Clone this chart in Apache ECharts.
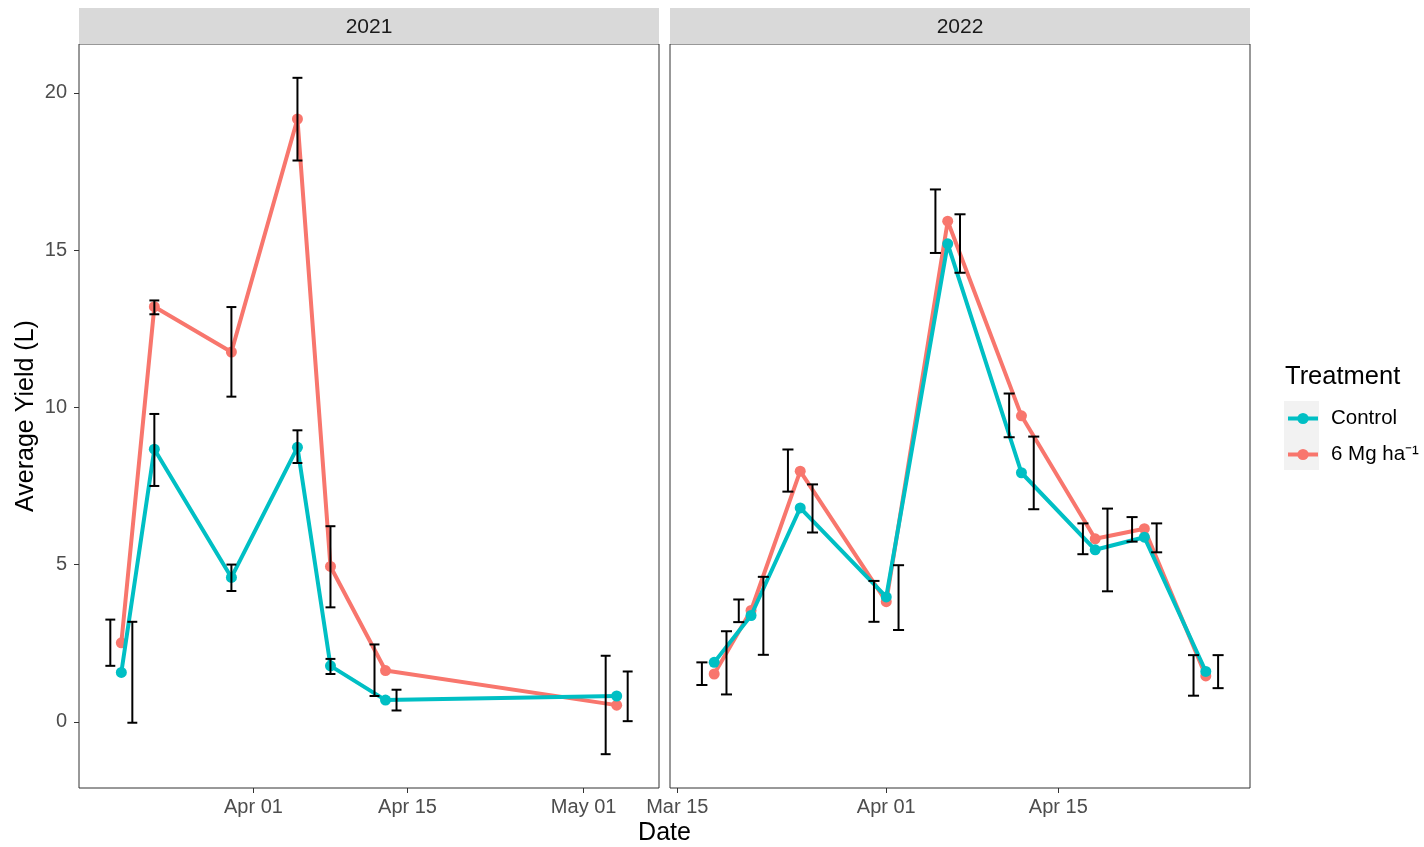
<!DOCTYPE html>
<html>
<head>
<meta charset="utf-8">
<script src="https://cdn.jsdelivr.net/npm/echarts@6/dist/echarts.min.js"></script>
<style>
html, body { margin: 0; padding: 0; background: #fff; }
#chart { width: 1424px; height: 847px; }
</style>
</head>
<body>
<div id="chart"></div>
<script>
// ---- data ----
const dates2021 = ['2021-03-20', '2021-03-23', '2021-03-30', '2021-04-05', '2021-04-08', '2021-04-13', '2021-05-04'];
const control2021 = [1.57, 8.67, 4.59, 8.73, 1.78, 0.69, 0.82];
const controlLo2021 = [-0.03, 7.50, 4.16, 8.23, 1.52, 0.36, 0.02];
const controlHi2021 = [3.18, 9.79, 5.00, 9.27, 2.00, 1.02, 1.60];
const mg2021 = [2.51, 13.20, 11.76, 19.17, 4.94, 1.63, 0.53];
const mgLo2021 = [1.78, 12.96, 10.34, 17.85, 3.64, 0.82, -1.03];
const mgHi2021 = [3.25, 13.40, 13.19, 20.48, 6.22, 2.46, 2.10];
// days the error bars sit away from the point (6 Mg to the left, Control to the right)
const dodge2021 = [1, 0, 0, 0, 0, 1, 1];

const dates2022 = ['2022-03-18', '2022-03-21', '2022-03-25', '2022-04-01', '2022-04-06', '2022-04-12', '2022-04-18', '2022-04-22', '2022-04-27'];
const control2022 = [1.89, 3.38, 6.80, 3.97, 15.20, 7.92, 5.47, 5.87, 1.60];
const controlLo2022 = [0.87, 2.13, 6.02, 2.92, 14.28, 6.76, 4.15, 5.39, 1.07];
const controlHi2022 = [2.88, 4.61, 7.55, 4.98, 16.14, 9.07, 6.78, 6.31, 2.12];
const mg2022 = [1.52, 3.54, 7.97, 3.82, 15.92, 9.73, 5.82, 6.14, 1.46];
const mgLo2022 = [1.17, 3.17, 7.32, 3.18, 14.91, 9.05, 5.33, 5.73, 0.83];
const mgHi2022 = [1.89, 3.89, 8.66, 4.48, 16.93, 10.44, 6.31, 6.51, 2.12];
const dodge2022 = [1, 1, 1, 1, 1, 1, 1, 1, 1];

const yTicks = [0, 5, 10, 15, 20];
const xTicks2021 = ['2021-04-01', '2021-04-15', '2021-05-01'];
const xTicks2022 = ['2022-03-15', '2022-04-01', '2022-04-15'];
const years = ['2021', '2022'];
const names = ['Control', '6 Mg ha\u207B\u00B9'];

const DAY = 86400000;
const CAP = 0.45 * DAY; // half width of error bar caps
const MONTHS = ['Jan', 'Feb', 'Mar', 'Apr', 'May', 'Jun', 'Jul', 'Aug', 'Sep', 'Oct', 'Nov', 'Dec'];
const CYAN = '#00BFC4';
const RED = '#F8766D';
const FONT = '"Liberation Sans", Arial, Helvetica, sans-serif';

function toTime(s) {
  const p = s.split('-').map(Number);
  return Date.UTC(p[0], p[1] - 1, p[2]);
}
function fmtDate(v) {
  const d = new Date(v);
  return MONTHS[d.getUTCMonth()] + ' ' + String(d.getUTCDate()).padStart(2, '0');
}
function expand(lo, hi) {
  const pad = (hi - lo) * 0.05;
  return [lo - pad, hi + pad];
}

const panels = [
  { dates: dates2021, c: control2021, cLo: controlLo2021, cHi: controlHi2021,
    m: mg2021, mLo: mgLo2021, mHi: mgHi2021, dodge: dodge2021, ticks: xTicks2021 },
  { dates: dates2022, c: control2022, cLo: controlLo2022, cHi: controlHi2022,
    m: mg2022, mLo: mgLo2022, mHi: mgHi2022, dodge: dodge2022, ticks: xTicks2022 },
];

// shared y range (fixed y scale, 5% expansion)
let yMin = Infinity, yMax = -Infinity;
panels.forEach(p => {
  yMin = Math.min(yMin, ...p.cLo, ...p.mLo);
  yMax = Math.max(yMax, ...p.cHi, ...p.mHi);
});
const yRange = expand(yMin, yMax);

function renderErr(params, api) {
  const x = api.value(0), lo = api.value(1), hi = api.value(2);
  const a = api.coord([x, hi]);
  const b = api.coord([x, lo]);
  const l = api.coord([x - CAP, lo])[0];
  const r = api.coord([x + CAP, lo])[0];
  const style = { stroke: '#000', lineWidth: 2 };
  return {
    type: 'group',
    children: [
      { type: 'line', shape: { x1: a[0], y1: a[1], x2: b[0], y2: b[1] }, style },
      { type: 'line', shape: { x1: l, y1: a[1], x2: r, y2: a[1] }, style },
      { type: 'line', shape: { x1: l, y1: b[1], x2: r, y2: b[1] }, style },
    ],
  };
}

const grids = [];
const xAxes = [];
const yAxes = [];
const series = [];
const panelLeft = [79, 670];
const panelW = 580;
const panelTop = 44;
const panelH = 744;

panels.forEach((p, i) => {
  const t = p.dates.map(toTime);
  const errM = t.map((x, k) => [x - p.dodge[k] * DAY, p.mLo[k], p.mHi[k]]);
  const errC = t.map((x, k) => [x + p.dodge[k] * DAY, p.cLo[k], p.cHi[k]]);
  const allX = errM.concat(errC).map(e => e[0]);
  const xRange = expand(Math.min(...allX) - CAP, Math.max(...allX) + CAP);

  grids.push({
    left: panelLeft[i], top: panelTop, width: panelW, height: panelH,
    show: true, borderColor: '#333333', borderWidth: 1, backgroundColor: '#fff',
  });
  xAxes.push({
    type: 'value', gridIndex: i, min: xRange[0], max: xRange[1], scale: true,
    axisLine: { show: false, onZero: false },
    splitLine: { show: false },
    axisTick: { show: true, length: 5, lineStyle: { color: '#333333', width: 1 },
      customValues: p.ticks.map(toTime) },
    axisLabel: { show: true, margin: 9, color: '#4D4D4D', fontSize: 20, fontFamily: FONT,
      customValues: p.ticks.map(toTime), formatter: fmtDate, hideOverlap: false,
      showMinLabel: true, showMaxLabel: true },
  });
  yAxes.push({
    type: 'value', gridIndex: i, min: yRange[0], max: yRange[1],
    axisLine: { show: false, onZero: false },
    splitLine: { show: false },
    axisTick: { show: i === 0, length: 5, lineStyle: { color: '#333333', width: 1 },
      customValues: yTicks },
    axisLabel: { show: i === 0, margin: 12, color: '#4D4D4D', fontSize: 20, fontFamily: FONT,
      customValues: yTicks },
  });

  const lineBase = {
    type: 'line', xAxisIndex: i, yAxisIndex: i,
    symbol: 'circle', symbolSize: 11, showSymbol: true,
    emphasis: { disabled: true }, silent: true,
  };
  series.push(Object.assign({}, lineBase, {
    name: names[1], z: 2,
    data: t.map((x, k) => [x, p.m[k]]),
    itemStyle: { color: RED }, lineStyle: { color: RED, width: 4 },
  }));
  series.push(Object.assign({}, lineBase, {
    name: names[0], z: 3,
    data: t.map((x, k) => [x, p.c[k]]),
    itemStyle: { color: CYAN }, lineStyle: { color: CYAN, width: 4 },
  }));
  series.push({
    type: 'custom', name: 'err-m-' + years[i], xAxisIndex: i, yAxisIndex: i, z: 4,
    renderItem: renderErr, encode: { x: 0, y: [1, 2] }, data: errM, silent: true,
  });
  series.push({
    type: 'custom', name: 'err-c-' + years[i], xAxisIndex: i, yAxisIndex: i, z: 4,
    renderItem: renderErr, encode: { x: 0, y: [1, 2] }, data: errC, silent: true,
  });
});

const strips = [];
years.forEach((y, i) => {
  strips.push({
    type: 'rect', left: panelLeft[i], top: 8,
    shape: { width: panelW, height: panelTop - 8 },
    style: { fill: '#D9D9D9' }, silent: true,
  });
  strips.push({
    type: 'text', x: panelLeft[i] + panelW / 2, y: (8 + panelTop) / 2 + 1,
    style: { text: y, fill: '#1A1A1A', font: '21px ' + FONT, align: 'center', verticalAlign: 'middle' },
    silent: true,
  });
});

const chart = echarts.init(document.getElementById('chart'));
chart.setOption({
  animation: false,
  backgroundColor: '#fff',
  textStyle: { fontFamily: FONT },
  grid: grids,
  xAxis: xAxes,
  yAxis: yAxes,
  series: series,
  legend: {
    data: names, orient: 'vertical', left: 1286, top: 408, padding: 0,
    itemWidth: 30, itemHeight: 14, itemGap: 15,
    lineStyle: { width: 4 },
    textStyle: { fontSize: 20.5, lineHeight: 20, color: '#000', fontFamily: FONT, padding: [0, 0, 0, 8] },
    selectedMode: false,
  },
  graphic: strips.concat([
    { type: 'rect', left: 1284, top: 401, shape: { width: 35, height: 69 },
      style: { fill: '#F2F2F2' }, z: -1, silent: true },
    { type: 'text', x: 1285, y: 377,
      style: { text: 'Treatment', fill: '#000', font: '25.5px ' + FONT, verticalAlign: 'middle' } },
    { type: 'text', x: (panelLeft[0] + panelLeft[1] + panelW) / 2, y: 833,
      style: { text: 'Date', fill: '#000', font: '25px ' + FONT, align: 'center', verticalAlign: 'middle' } },
    { type: 'text', x: 26, y: panelTop + panelH / 2, rotation: Math.PI / 2,
      style: { text: 'Average Yield (L)', fill: '#000', font: '25px ' + FONT, align: 'center', verticalAlign: 'middle' } },
  ]),
});
</script>
</body>
</html>
